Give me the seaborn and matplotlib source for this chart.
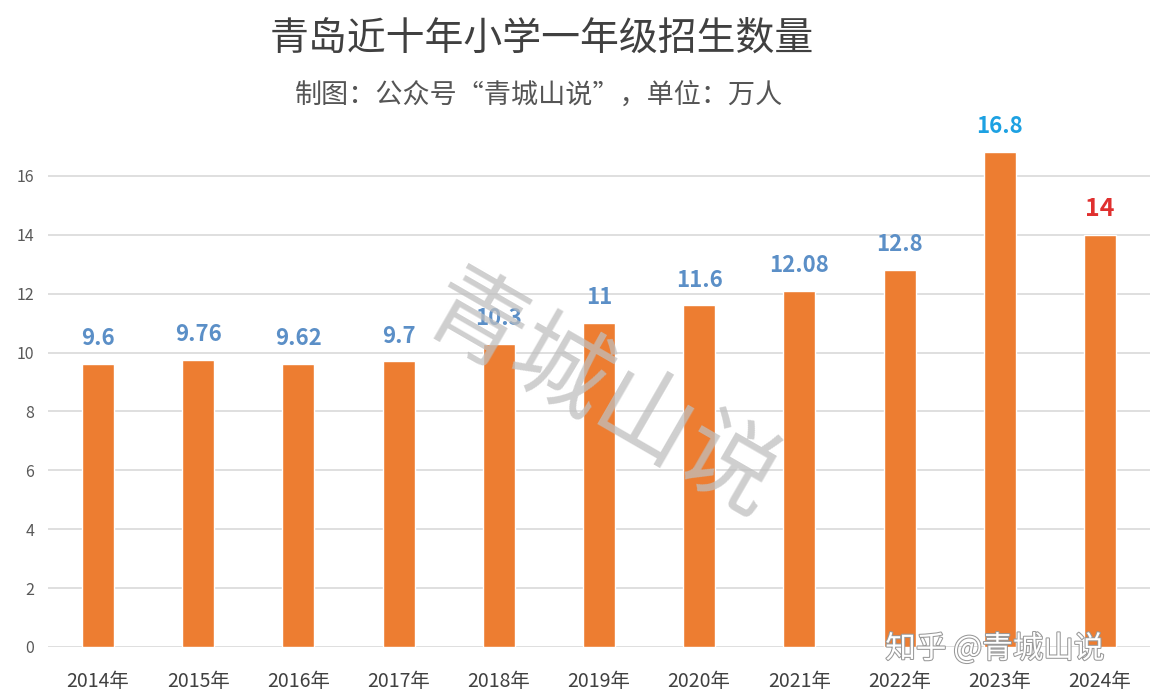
import matplotlib
matplotlib.use('Agg')
import matplotlib.pyplot as plt
import matplotlib.patheffects as pe
import seaborn as sns
import pandas as pd

# data (unit: 10k pupils)
years = ['2014年', '2015年', '2016年', '2017年', '2018年', '2019年',
         '2020年', '2021年', '2022年', '2023年', '2024年']
values = [9.6, 9.76, 9.62, 9.7, 10.3, 11, 11.6, 12.08, 12.8, 16.8, 14]
labels = ['9.6', '9.76', '9.62', '9.7', '10.3', '11', '11.6', '12.08', '12.8', '16.8', '14']
label_colors = ['#5B8FC7'] * 9 + ['#1DA1E2', '#E0302F']

df = pd.DataFrame({'year': years, 'value': values})

sns.set_theme(style='white')
plt.rcParams['font.family'] = ['Noto Sans CJK SC', 'DejaVu Sans']

fig = plt.figure(figsize=(11.5, 6.99), dpi=100)
ax = fig.add_axes([0.0417, 0.0744, 0.9583, 0.7582])

sns.barplot(data=df, x='year', y='value', color='#ED7D31', width=0.32,
            saturation=1, ax=ax, zorder=3)

ax.set_ylim(0, 18)
ax.set_xlim(-0.5, len(years) - 0.5)
ax.set_yticks(range(0, 17, 2))
ax.yaxis.grid(True, color='#D9D9D9', linewidth=1.2, zorder=0)
ax.set_axisbelow(True)
for s in ax.spines.values():
    s.set_visible(False)
ax.set_xlabel('')
ax.set_ylabel('')
ax.tick_params(axis='y', length=0, labelsize=11.5, labelcolor='#595959', pad=10)
ax.tick_params(axis='x', length=0, labelsize=14, labelcolor='#404040', pad=17)

# value labels over the bars
for i, (v, t, c) in enumerate(zip(values, labels, label_colors)):
    size = 18 if i == 10 else 16
    ax.annotate(t, (i, v), xytext=(0, 10), textcoords='offset points',
                ha='center', va='bottom', fontsize=size, fontweight='bold', color=c)

# titles
fig.text(0.471, 0.943, '青岛近十年小学一年级招生数量', ha='center', va='center',
         fontsize=28, color='#404040', fontweight='medium')
fig.text(0.469, 0.864, '制图：公众号“青城山说”，单位：万人', ha='center', va='center',
         fontsize=19.5, color='#555555')

# watermarks
fig.text(0.522, 0.43, '青城山说', ha='center', va='center', fontsize=70,
         color='#BFBFBF', alpha=0.75, rotation=-30, zorder=10)
fig.text(0.865, 0.072, '知乎 @青城山说', ha='center', va='center', fontsize=22,
         color='white', zorder=10,
         path_effects=[pe.withStroke(linewidth=1.5, foreground='#999999')])

fig.savefig('out.png', dpi=100, facecolor='white')
